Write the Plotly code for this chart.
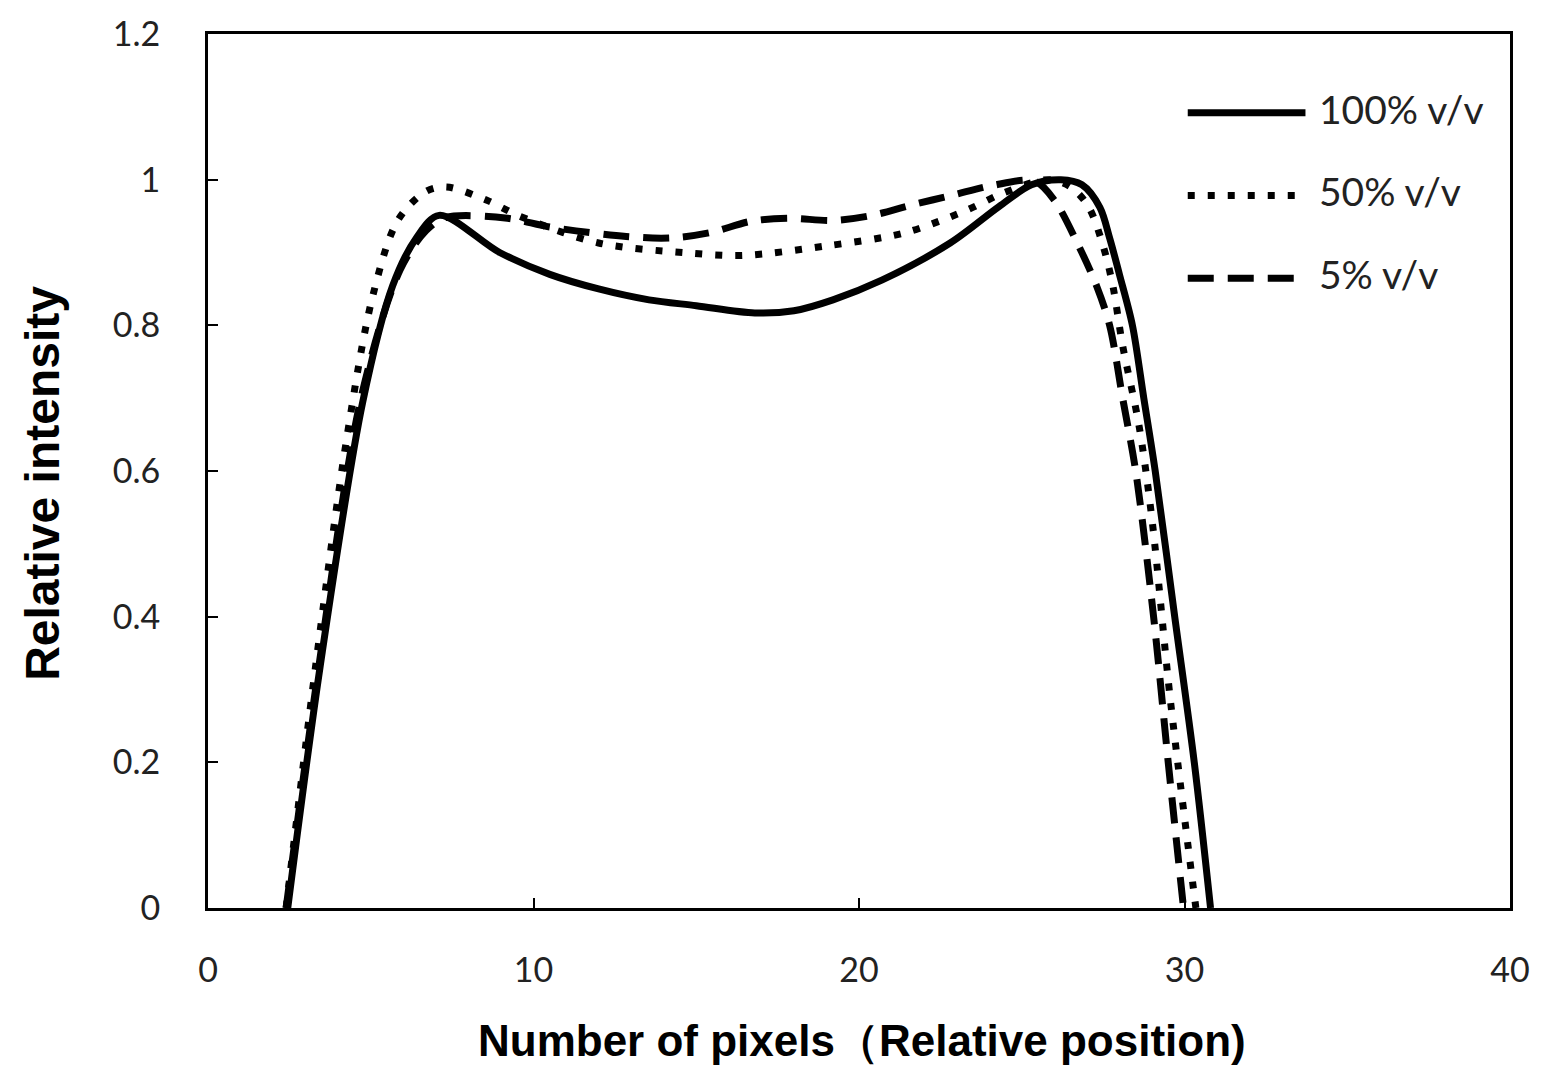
import plotly.graph_objects as go

# 100% v/v (solid)
x_100 = [2.45, 3.44, 4.75, 5.67, 6.4, 7.1, 8.96, 10.5, 12.0, 13.55, 15.0, 16.8, 18.0, 19.2, 20.7,
         22.8, 24.3, 25.3, 26.2, 26.85, 27.4, 27.7, 28.0, 28.4, 28.75, 29.1, 29.7, 30.3, 30.8]
y_100 = [0.0, 0.33, 0.694, 0.854, 0.92, 0.951, 0.9, 0.87, 0.85, 0.835, 0.827, 0.817, 0.82, 0.835, 0.862,
         0.913, 0.963, 0.993, 1.0, 0.993, 0.962, 0.92, 0.87, 0.8, 0.7, 0.6, 0.4, 0.2, 0.0]

# 50% v/v (dotted)
x_50 = [2.4, 3.3, 4.26, 5.06, 5.83, 6.7, 7.33, 8.55, 9.57, 12.0, 14.6, 16.4, 19.0, 21.4, 23.3, 24.4,
        25.8, 26.5, 27.05, 27.5, 27.8, 28.1, 28.6, 29.0, 29.57, 30.35]
y_50 = [0.0, 0.33, 0.644, 0.84, 0.944, 0.984, 0.99, 0.972, 0.95, 0.913, 0.9, 0.896, 0.909, 0.927, 0.958, 0.981,
        1.0, 0.99, 0.963, 0.909, 0.854, 0.772, 0.663, 0.534, 0.284, 0.0]

# 5% v/v (dashed)
x_5 = [2.4, 3.4, 4.7, 5.9, 6.7, 7.3, 9.2, 10.5, 12.85, 14.2, 15.4, 16.7, 17.85, 19.2, 20.4, 21.6, 22.9,
       24.1, 25.4, 26.0, 26.75, 27.3, 27.7, 28.1, 28.5, 29.05, 29.5, 29.97]
y_5 = [0.0, 0.33, 0.7, 0.876, 0.93, 0.948, 0.947, 0.935, 0.922, 0.92, 0.927, 0.943, 0.947, 0.944, 0.951, 0.965, 0.979,
       0.992, 0.998, 0.972, 0.909, 0.854, 0.8, 0.7, 0.6, 0.4, 0.2, 0.0]

labels = ["100% v/v", "50% v/v", "5% v/v"]
x_ticks = [0, 10, 20, 30, 40]
y_ticks = [0, 0.2, 0.4, 0.6, 0.8, 1, 1.2]

styles = [dict(width=7, dash="solid"), dict(width=7, dash="7px,13px"), dict(width=7, dash="26px,14px")]

fig = go.Figure()
for xs, ys, name, st in zip([x_100, x_50, x_5], [y_100, y_50, y_5], labels, styles):
    fig.add_trace(go.Scatter(x=xs, y=ys, mode="lines", name=name,
                             line=dict(color="black", width=st["width"], dash=st["dash"],
                                       shape="spline", smoothing=0.9),
                             showlegend=False))

L, R, T, B = 208, 29, 31, 159
W, H = 1542, 1067
pw, ph = W - L - R, H - T - B

def px2paper_x(px):
    return (px - L) / pw

def px2paper_y(py):
    return (H - B - py) / ph

# manual legend
leg_y = [110, 193, 276]
for name, st, py in zip(labels, styles, leg_y):
    fig.add_shape(type="line", xref="paper", yref="paper",
                  x0=px2paper_x(1190), x1=px2paper_x(1308), y0=px2paper_y(py), y1=px2paper_y(py),
                  line=dict(color="black", width=st["width"], dash=st["dash"]))
    fig.add_annotation(xref="paper", yref="paper", x=px2paper_x(1320), y=px2paper_y(py - 4),
                       text=name, showarrow=False, xanchor="left", yanchor="middle",
                       font=dict(family="Lato", size=39, color="#222"))

# axis titles
fig.add_annotation(xref="paper", yref="paper", x=px2paper_x(864), y=px2paper_y(1041),
                   text="Number of pixels（Relative position)", showarrow=False,
                   xanchor="center", yanchor="middle",
                   font=dict(family="Liberation Sans", size=44, color="black", weight="bold"))
fig.add_annotation(xref="paper", yref="paper", x=px2paper_x(42), y=px2paper_y(482),
                   text="Relative intensity", showarrow=False, textangle=-90,
                   xanchor="center", yanchor="middle",
                   font=dict(family="Liberation Sans", size=48, color="black", weight="bold"))

axis_common = dict(showline=True, linecolor="black", linewidth=3, mirror=True,
                   ticks="inside", ticklen=10, tickwidth=2, tickcolor="black",
                   showgrid=False, zeroline=False,
                   tickfont=dict(family="Lato", size=34, color="#222"))

fig.update_xaxes(range=[0, 40], tickvals=x_ticks, ticktext=[str(v) for v in x_ticks],
                 ticklabelstandoff=30, **axis_common)
fig.update_yaxes(range=[0, 1.2], tickvals=y_ticks, ticktext=[f"{v:g}" for v in y_ticks],
                 ticklabelstandoff=38, **axis_common)

fig.update_layout(width=W, height=H, margin=dict(l=L, r=R, t=T, b=B),
                  plot_bgcolor="white", paper_bgcolor="white")

fig.write_html("out.html")
